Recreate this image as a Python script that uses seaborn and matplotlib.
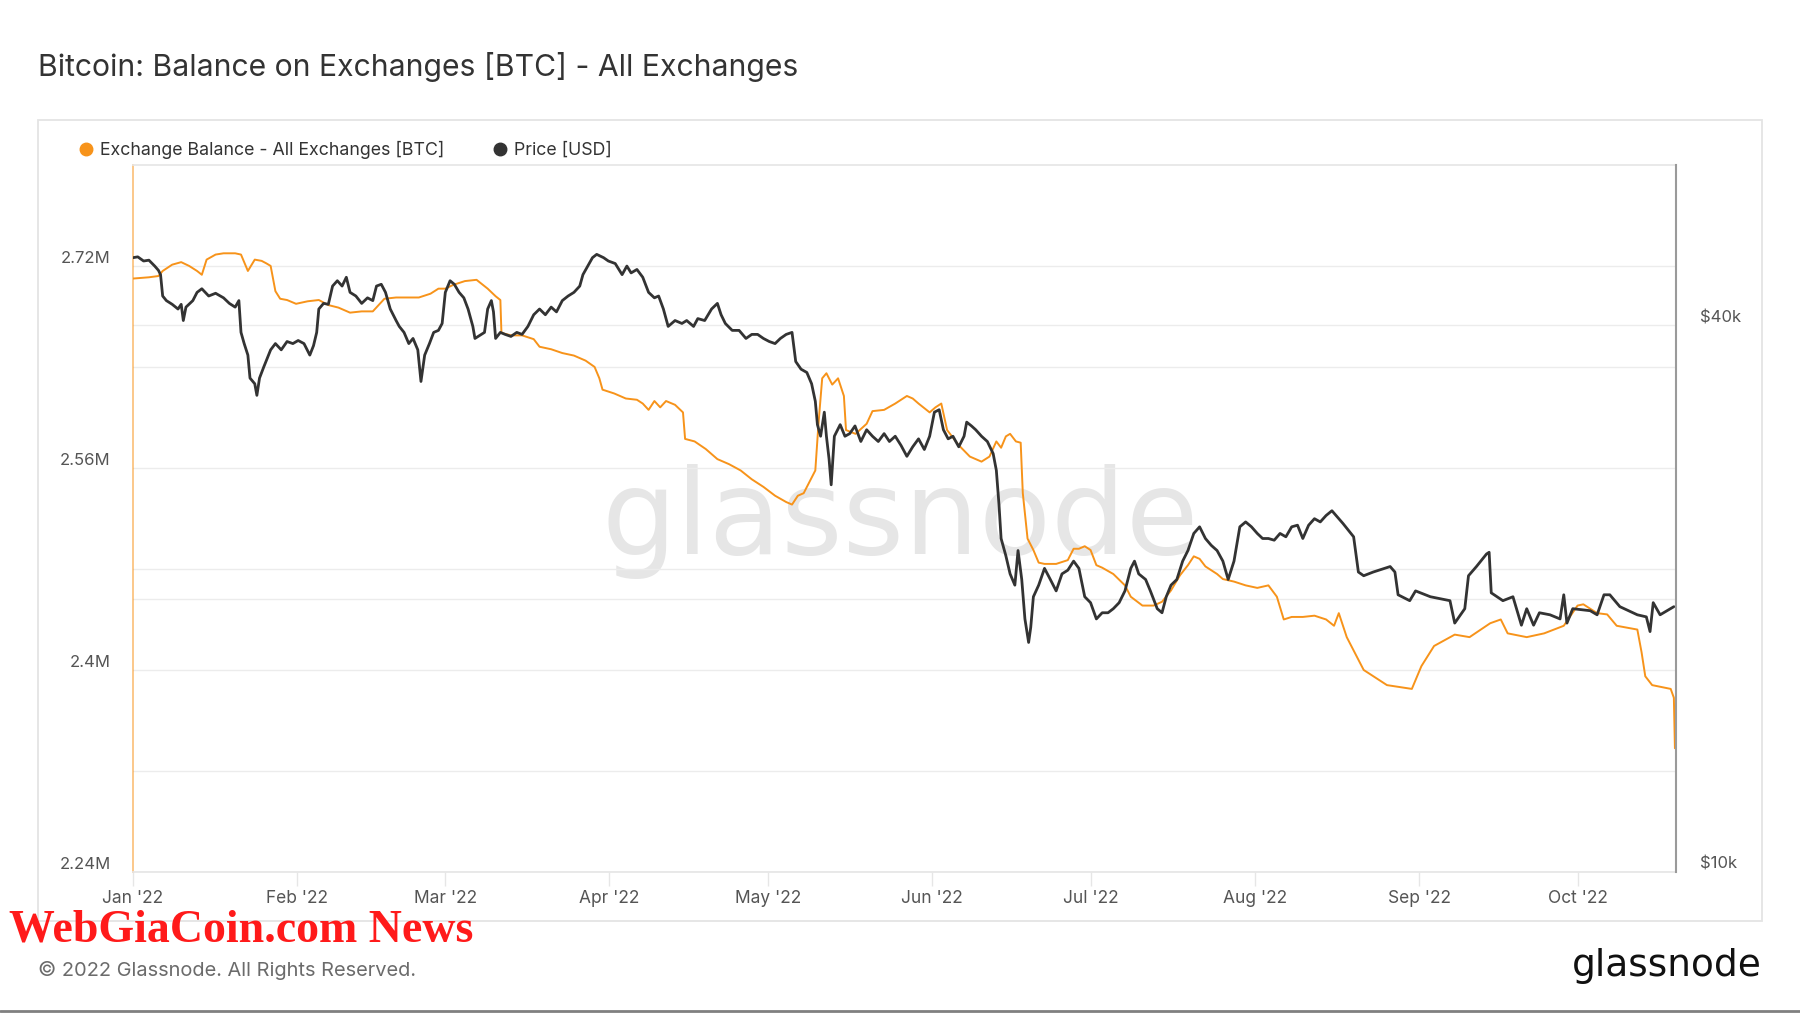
import numpy as np
import pandas as pd
import matplotlib
matplotlib.use("Agg")
import matplotlib.pyplot as plt
import matplotlib.dates as mdates
from matplotlib.ticker import FixedLocator, FuncFormatter, NullLocator, NullFormatter
from matplotlib.lines import Line2D
from matplotlib.patches import Rectangle
from matplotlib.transforms import blended_transform_factory
import seaborn as sns

start = pd.Timestamp("2022-01-01")

# Exchange balance: days since Jan 1 2022, thousand BTC
bal_days = [0.0, 3.0, 4.8, 5.6, 7.4, 9.1, 10.6, 12.1, 13.0, 13.9,
            15.6, 17.1, 19.3, 20.4, 21.7, 23.0, 24.3, 25.2, 26.0, 26.9,
            27.8, 29.1, 30.8, 33.0, 35.1, 36.9, 38.8, 41.0, 43.2, 45.3,
            47.5, 49.7, 51.8, 54.0, 56.2, 57.7, 59.0, 60.5, 62.7, 64.9,
            67.0, 68.5, 69.4, 69.6, 71.4, 73.5, 75.7, 76.8, 79.0, 81.1,
            83.3, 85.5, 87.2, 88.1, 88.7, 90.9, 93.1, 95.2, 96.3, 97.4,
            98.5, 99.6, 100.7, 102.4, 103.9, 104.3, 106.1, 108.2, 110.4, 112.6,
            114.8, 116.9, 119.1, 121.3, 123.4, 124.5, 125.6, 126.7, 127.8, 128.9,
            129.5, 130.2, 131.0, 132.1, 133.2, 134.3, 134.7, 136.5, 138.6, 139.7,
            141.9, 144.0, 146.2, 147.3, 148.4, 150.5, 151.6, 152.7, 153.8, 156.0,
            158.1, 160.3, 161.8, 163.1, 164.0, 164.9, 165.7, 166.8, 167.7, 168.1,
            169.0, 170.1, 171.1, 172.2, 174.4, 176.6, 177.7, 178.7, 179.8, 180.9,
            182.0, 183.1, 185.2, 187.4, 188.5, 190.7, 192.8, 194.4, 196.1, 197.8,
            199.3, 200.4, 201.5, 202.6, 204.8, 205.9, 208.0, 210.2, 212.4, 214.5,
            216.1, 217.4, 218.9, 221.0, 223.2, 225.4, 226.9, 227.8, 229.3, 232.5,
            236.9, 241.6, 243.4, 245.8, 249.7, 252.5, 256.4, 258.4, 259.7, 263.3,
            266.6, 270.3, 272.9, 274.0, 276.6, 278.5, 280.3, 284.2, 285.0, 285.7,
            287.0, 290.5, 291.1, 291.3]
bal_kbtc = [2710, 2711, 2712, 2716, 2721, 2723, 2720, 2716, 2713, 2725,
            2729, 2730, 2730, 2729, 2716, 2725, 2724, 2722, 2720, 2700,
            2694, 2693, 2690, 2692, 2693, 2689, 2687, 2683, 2684, 2684,
            2694, 2695, 2695, 2695, 2698, 2702, 2702, 2705, 2708, 2709,
            2702, 2696, 2693, 2667, 2665, 2665, 2662, 2656, 2654, 2651,
            2649, 2645, 2640, 2631, 2622, 2619, 2615, 2614, 2611, 2606,
            2613, 2608, 2613, 2610, 2604, 2583, 2581, 2575, 2567, 2563,
            2558, 2551, 2545, 2538, 2533, 2531, 2538, 2540, 2549, 2558,
            2595, 2631, 2635, 2626, 2631, 2617, 2590, 2587, 2595, 2605,
            2606, 2611, 2617, 2615, 2611, 2604, 2608, 2611, 2590, 2578,
            2569, 2565, 2569, 2581, 2576, 2585, 2587, 2581, 2580, 2540,
            2504, 2495, 2485, 2484, 2484, 2487, 2496, 2496, 2498, 2495,
            2483, 2481, 2476, 2467, 2458, 2451, 2451, 2454, 2463, 2475,
            2483, 2490, 2488, 2482, 2476, 2472, 2470, 2467, 2465, 2467,
            2458, 2440, 2442, 2442, 2443, 2440, 2435, 2445, 2426, 2400,
            2388, 2385, 2403, 2419, 2428, 2426, 2437, 2440, 2429, 2426,
            2429, 2435, 2451, 2452, 2445, 2444, 2435, 2432, 2414, 2395,
            2388, 2385, 2378, 2338]

# BTC price: days since Jan 1 2022, thousand USD
px_days = [0.0, 0.9, 2.0, 3.0, 4.1, 4.8, 5.2, 5.6, 6.3, 7.4,
           8.5, 9.1, 9.5, 10.0, 11.3, 12.1, 13.0, 14.3, 15.6, 17.1,
           18.2, 19.3, 20.0, 20.4, 21.0, 21.7, 22.1, 23.0, 23.4, 23.9,
           24.7, 26.0, 26.9, 28.0, 29.1, 30.2, 31.2, 32.3, 33.4, 34.1,
           34.7, 35.1, 36.0, 36.9, 37.7, 38.6, 39.5, 40.3, 41.0, 42.1,
           43.2, 44.3, 45.3, 46.0, 46.9, 47.7, 48.6, 49.7, 50.3, 51.2,
           52.1, 52.9, 53.8, 54.4, 55.1, 56.0, 56.8, 57.7, 58.4, 59.0,
           59.9, 60.7, 61.6, 62.5, 63.3, 64.2, 64.6, 65.5, 66.4, 67.0,
           67.7, 68.1, 68.5, 69.4, 70.3, 71.4, 72.5, 73.5, 74.6, 75.7,
           76.8, 77.9, 79.0, 80.0, 81.1, 82.2, 83.3, 84.4, 85.0, 85.9,
           86.8, 87.6, 88.9, 89.8, 91.1, 92.4, 93.3, 94.1, 95.2, 96.3,
           97.4, 98.5, 99.3, 100.2, 101.1, 102.4, 103.7, 104.6, 105.9, 106.7,
           108.0, 109.3, 110.4, 111.1, 111.9, 113.2, 114.5, 115.8, 116.9, 118.0,
           119.1, 120.2, 121.3, 122.3, 123.4, 124.5, 125.2, 126.2, 127.3, 128.2,
           128.9, 129.3, 129.9, 130.6, 131.0, 131.5, 131.9, 132.5, 133.6, 134.5,
           135.4, 136.4, 137.5, 138.6, 139.7, 140.8, 141.9, 142.9, 144.0, 145.1,
           146.2, 147.3, 148.4, 149.5, 150.5, 151.4, 152.3, 153.1, 154.0, 154.9,
           156.0, 157.0, 157.5, 158.4, 159.2, 160.3, 161.4, 162.5, 163.1, 163.6,
           164.0, 164.9, 165.7, 166.6, 167.2, 167.9, 168.5, 169.2, 169.6, 170.1,
           171.1, 172.2, 173.3, 174.4, 175.5, 176.6, 177.7, 178.7, 179.8, 180.9,
           182.0, 183.1, 184.2, 185.2, 186.3, 187.4, 188.5, 189.2, 190.0, 191.3,
           192.2, 193.5, 194.4, 195.2, 196.1, 197.2, 198.3, 199.3, 200.4, 201.5,
           202.6, 203.7, 204.8, 205.9, 206.9, 208.0, 209.1, 210.2, 211.3, 212.4,
           213.4, 214.5, 215.6, 216.7, 217.8, 218.9, 220.0, 221.0, 222.1, 223.2,
           224.3, 225.4, 226.5, 228.6, 230.6, 231.5, 232.5, 234.3, 237.5, 238.4,
           239.0, 241.2, 242.3, 245.1, 248.8, 249.7, 251.6, 252.3, 253.8, 255.7,
           256.2, 256.6, 258.8, 260.7, 261.6, 262.3, 263.3, 264.6, 265.7, 267.7,
           269.6, 270.3, 270.9, 272.0, 275.3, 276.6, 277.9, 279.0, 280.9, 284.2,
           285.9, 286.6, 287.2, 288.5, 291.1]
px_kusd = [47.5, 47.6, 47.1, 47.2, 46.5, 46.0, 45.5, 43.1, 42.6, 42.2,
           41.7, 42.2, 40.5, 41.9, 42.6, 43.5, 43.9, 43.1, 43.4, 42.9,
           42.3, 41.9, 42.6, 39.3, 38.2, 37.1, 35.0, 34.5, 33.5, 35.0,
           36.0, 37.6, 38.2, 37.6, 38.4, 38.2, 38.5, 38.2, 37.1, 38.0,
           39.3, 41.7, 42.3, 42.2, 44.2, 44.8, 44.2, 45.2, 43.5, 43.1,
           42.3, 42.9, 42.6, 44.2, 44.4, 43.5, 41.7, 40.5, 39.9, 39.3,
           38.2, 38.7, 37.6, 34.7, 37.1, 38.2, 39.3, 39.5, 40.2, 43.5,
           44.8, 44.4, 43.5, 42.9, 41.7, 39.9, 38.7, 39.0, 39.3, 41.7,
           42.6, 41.4, 38.7, 39.3, 39.1, 38.9, 39.3, 39.1, 39.9, 41.1,
           41.7, 41.1, 41.9, 41.4, 42.6, 43.1, 43.5, 44.2, 45.5, 46.5,
           47.5, 47.9, 47.5, 47.1, 46.8, 45.5, 46.5, 45.7, 46.1, 45.2,
           43.5, 42.9, 43.1, 41.7, 39.9, 40.5, 40.2, 40.5, 39.9, 40.7,
           40.5, 41.7, 42.3, 41.1, 40.2, 39.5, 39.5, 38.7, 39.1, 39.1,
           38.7, 38.4, 38.2, 38.7, 39.1, 39.3, 36.5, 35.8, 35.5, 34.5,
           33.0, 31.1, 30.2, 32.1, 30.2, 28.5, 26.7, 30.2, 31.1, 30.2,
           30.4, 31.0, 29.8, 30.7, 30.2, 29.8, 30.4, 29.8, 30.2, 29.5,
           28.7, 29.4, 30.0, 29.2, 30.2, 32.1, 32.3, 30.7, 30.0, 30.2,
           29.4, 30.2, 31.3, 31.0, 30.7, 30.2, 29.8, 28.9, 27.7, 25.4,
           23.3, 22.3, 21.3, 20.7, 22.6, 21.0, 19.0, 17.9, 18.6, 20.1,
           20.7, 21.6, 21.0, 20.4, 21.3, 21.5, 22.0, 21.6, 20.1, 19.8,
           19.0, 19.3, 19.3, 19.5, 19.8, 20.4, 21.6, 22.0, 21.3, 21.0,
           20.4, 19.5, 19.3, 20.1, 20.7, 21.0, 22.0, 22.6, 23.6, 24.0,
           23.3, 22.9, 22.6, 22.0, 21.0, 22.0, 24.0, 24.3, 24.0, 23.6,
           23.3, 23.3, 23.2, 23.6, 23.4, 24.0, 24.1, 23.3, 24.1, 24.5,
           24.3, 24.7, 25.0, 24.2, 23.4, 21.4, 21.2, 21.4, 21.7, 21.4,
           20.2, 19.9, 20.4, 20.1, 19.9, 18.8, 19.5, 21.2, 21.7, 22.4,
           22.5, 20.3, 19.9, 20.1, 19.3, 18.7, 19.5, 18.7, 19.3, 19.2,
           19.0, 20.2, 18.8, 19.5, 19.4, 19.2, 20.2, 20.2, 19.6, 19.2,
           19.1, 18.4, 19.8, 19.2, 19.6]

bal_ticks = [2.24e6, 2.40e6, 2.56e6, 2.72e6]
bal_minor = [2.32e6, 2.48e6, 2.64e6]
price_ticks = [10000, 40000]
price_grid = [20000, 40000]

ORANGE = "#f7931a"
DARK = "#333333"

bal_df = pd.DataFrame({"date": start + pd.to_timedelta(bal_days, unit="D"),
                       "balance": np.array(bal_kbtc) * 1000.0})
px_df = pd.DataFrame({"date": start + pd.to_timedelta(px_days, unit="D"),
                      "price": np.array(px_kusd) * 1000.0})

sns.set_theme(style="white")
plt.rcParams["font.family"] = ["Inter", "DejaVu Sans"]

fig = plt.figure(figsize=(18, 10.13), dpi=100)
ax = fig.add_axes([0.0739, 0.1392, 0.8572, 0.698])
ax2 = ax.twinx()

sns.lineplot(data=bal_df, x="date", y="balance", ax=ax, color=ORANGE,
             linewidth=1.4, legend=False)
sns.lineplot(data=px_df, x="date", y="price", ax=ax2, color=DARK,
             linewidth=2.0, legend=False)

# axes ranges
ax.set_xlim(start, start + pd.Timedelta(days=291.5))
ax.set_ylim(2.24e6, 2.80e6)
ax2.set_yscale("log")
ax2.set_ylim(10000, 60100)

# left axis
ax.yaxis.set_major_locator(FixedLocator(bal_ticks))
ax.yaxis.set_minor_locator(FixedLocator(bal_minor))
ax.yaxis.set_major_formatter(FuncFormatter(lambda v, p: f"{round(v / 1e6, 2):g}M"))
ax.yaxis.set_minor_formatter(NullFormatter())
ax.grid(True, axis="y", which="both", color="#ececec", linewidth=1)
ax.grid(False, axis="x")

# right axis
ax2.yaxis.set_major_locator(FixedLocator(price_ticks))
ax2.yaxis.set_minor_locator(NullLocator())
ax2.yaxis.set_major_formatter(FuncFormatter(lambda v, p: f"${v / 1000:.0f}k"))
ax2.yaxis.set_minor_formatter(NullFormatter())
ax2.grid(False)
tr = blended_transform_factory(ax.transAxes, ax2.transData)
for v in price_grid:
    ax.add_line(Line2D([0, 1], [v, v], transform=tr, color="#ececec",
                       linewidth=1, zorder=0.8))

# x axis
ax.xaxis.set_major_locator(mdates.MonthLocator())
ax.xaxis.set_major_formatter(mdates.DateFormatter("%b '%y"))
ax.tick_params(axis="x", bottom=True, length=10, width=1, color="#e6e6e6",
               pad=3, labelsize=12.5, labelcolor="#555555")
ax.tick_params(axis="y", which="both", left=False, length=0, pad=16,
               labelsize=12, labelcolor="#555555")
ax2.tick_params(axis="y", which="both", right=False, length=0, pad=17,
                labelsize=12, labelcolor="#555555")
for t in ax.yaxis.get_major_ticks():
    t.label1.set_verticalalignment("bottom")
for t in ax2.yaxis.get_major_ticks():
    t.label2.set_verticalalignment("bottom")

for a in (ax, ax2):
    a.set_xlabel("")
    a.set_ylabel("")

ax.spines["left"].set_color(ORANGE)
ax.spines["left"].set_alpha(0.55)
ax.spines["left"].set_linewidth(1.3)
ax.spines["top"].set_color("#e6e6e6")
ax.spines["bottom"].set_color("#e6e6e6")
ax.spines["right"].set_visible(False)
for s in ("left", "top", "bottom"):
    ax2.spines[s].set_visible(False)
ax2.spines["right"].set_color("#9a9a9a")
ax2.spines["right"].set_linewidth(1.5)

# watermark
ax.text(0.497, 0.495, "glassnode", transform=ax.transAxes, fontsize=85,
        family="DejaVu Sans", color="#e6e6e6", ha="center", va="center", zorder=0)

# outer panel
fig.patches.append(Rectangle((0.021, 0.0908), 0.958, 0.7907, transform=fig.transFigure,
                             fill=False, edgecolor="#e4e4e4", linewidth=1.3, zorder=0))

fig.text(0.0211, 0.934, "Bitcoin: Balance on Exchanges [BTC] - All Exchanges",
         fontsize=21.7, color="#333333", ha="left", va="center")

handles = [Line2D([0], [0], marker="o", linestyle="", color=ORANGE, markersize=9),
           Line2D([0], [0], marker="o", linestyle="", color=DARK, markersize=9)]
fig.legend(handles, ["Exchange Balance - All Exchanges [BTC]", "Price [USD]"],
           loc="center left", bbox_to_anchor=(0.0428, 0.852), ncol=2, frameon=False,
           fontsize=12.8, handlelength=1.0, handletextpad=0.3, columnspacing=2.6,
           borderaxespad=0, borderpad=0, labelcolor="#333333")

fig.text(0.0211, 0.042, "\u00a9 2022 Glassnode. All Rights Reserved.",
         fontsize=14.4, color="#6b6b6b", ha="left", va="center")
fig.text(0.979, 0.0464, "glassnode", fontsize=27, family="DejaVu Sans",
         color="#111111", ha="right", va="center")
fig.text(0.005, 0.081, "WebGiaCoin.com News", fontsize=33, family="Liberation Serif",
         weight="bold", color="#ff1a1a", ha="left", va="center")

fig.add_artist(Line2D([0, 1], [0.0015, 0.0015], transform=fig.transFigure,
                      color="#808080", linewidth=2))

fig.savefig("out.png", dpi=100)
